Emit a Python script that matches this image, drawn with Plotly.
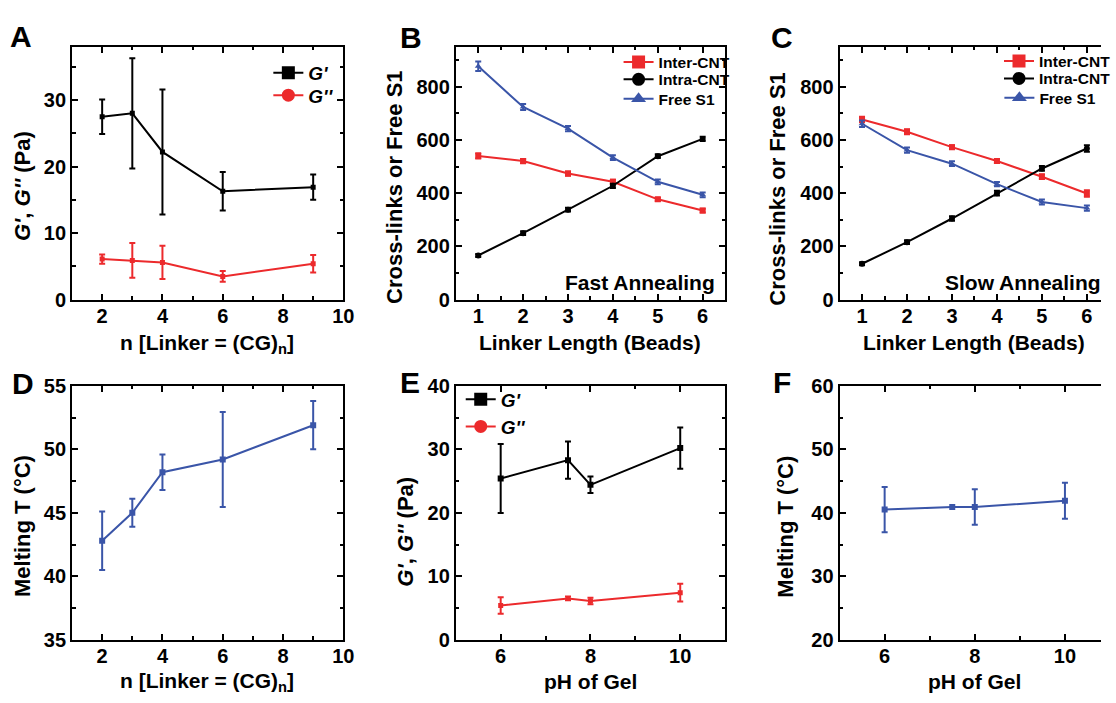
import plotly.graph_objects as go

# ---------------- data ----------------
# Panel A: G', G'' vs n
a_n = [2, 3, 4, 6, 9]
a_gp = [27.5, 28.0, 22.2, 16.3, 16.9]
a_gp_err = [2.6, 8.3, 9.4, 2.9, 1.9]
a_gpp = [6.1, 5.9, 5.6, 3.5, 5.4]
a_gpp_err = [0.7, 2.6, 2.5, 0.8, 1.3]

# Panel B: fast annealing
b_len = [1, 2, 3, 4, 5, 6]
b_inter = [540, 521, 474, 443, 377, 335]
b_intra = [166, 250, 338, 428, 539, 604]
b_free = [877, 724, 643, 534, 443, 394]
b_inter_err = [10, 8, 8, 8, 6, 7]
b_intra_err = [6, 7, 7, 8, 7, 8]
b_free_err = [18, 11, 10, 9, 9, 9]

# Panel C: slow annealing
c_len = [1, 2, 3, 4, 5, 6]
c_inter = [677, 631, 573, 521, 462, 399]
c_intra = [135, 216, 305, 400, 493, 568]
c_free = [661, 562, 511, 434, 367, 344]
c_inter_err = [10, 9, 7, 7, 9, 12]
c_intra_err = [6, 7, 8, 9, 9, 12]
c_free_err = [12, 10, 9, 8, 9, 10]

# Panel D: melting T vs n
d_n = [2, 3, 4, 6, 9]
d_tm = [42.8, 45.0, 48.2, 49.2, 51.9]
d_tm_err = [2.3, 1.1, 1.4, 3.75, 1.9]

# Panel E: G', G'' vs pH
e_ph = [6, 7.5, 8, 10]
e_gp = [25.4, 28.3, 24.4, 30.2]
e_gp_err = [5.45, 2.95, 1.3, 3.25]
e_gpp = [5.4, 6.5, 6.1, 7.4]
e_gpp_err = [1.3, 0.3, 0.5, 1.4]

# Panel F: melting T vs pH
f_ph = [6, 7.5, 8, 10]
f_tm = [40.5, 40.9, 40.9, 41.9]
f_tm_err = [3.55, 0.0, 2.8, 2.85]

# ---------------- style ----------------
W, H = 1116, 703
FONT = "Liberation Sans, Arial, sans-serif"
RED = "#EC2A2C"
BLUE = "#3A55A8"
BLACK = "#000000"


def px(x):
    return x / W


def py(y):
    return 1 - y / H


fig = go.Figure()


def add_series(x, y, err, color, symbol, xa, ya, msize=6):
    fig.add_trace(go.Scatter(
        x=x, y=y, mode="lines+markers", xaxis=xa, yaxis=ya,
        line=dict(color=color, width=2),
        marker=dict(symbol=symbol, size=msize, color=color),
        error_y=dict(type="data", array=err, visible=True, color=color,
                     thickness=2, width=3),
        showlegend=False, hoverinfo="skip"))


legend_layout = {}
_leg_count = [0]


def add_legend_entry(name, color, symbol, text_x, center_y, fsize):
    _leg_count[0] += 1
    k = _leg_count[0]
    key = "legend" if k == 1 else f"legend{k}"
    fig.add_trace(go.Scatter(
        x=[None], y=[None], mode="lines+markers", name=name,
        line=dict(color=color, width=2),
        marker=dict(symbol=symbol, size=13, color=color),
        legend=key, showlegend=True, xaxis="x", yaxis="y"))
    legend_layout[key] = dict(
        x=px(text_x - 33), y=py(center_y), xanchor="left", yanchor="middle",
        bgcolor="rgba(0,0,0,0)", borderwidth=0, itemwidth=30,
        itemclick=False, itemdoubleclick=False,
        font=dict(family=FONT, size=fsize, color=BLACK, weight="bold"))


# A
add_series(a_n, a_gp, a_gp_err, BLACK, "square", "x", "y", 5)
add_series(a_n, a_gpp, a_gpp_err, RED, "square", "x", "y", 5)
add_legend_entry("<i>G'</i>", BLACK, "square", 305, 64, 19)
add_legend_entry("<i>G''</i>", RED, "circle", 305, 87, 19)

# B
add_series(b_len, b_inter, b_inter_err, RED, "square", "x2", "y2")
add_series(b_len, b_intra, b_intra_err, BLACK, "circle", "x2", "y2")
add_series(b_len, b_free, b_free_err, BLUE, "triangle-up", "x2", "y2")
add_legend_entry("Inter-CNT", RED, "square", 660, 53, 15.5)
add_legend_entry("Intra-CNT", BLACK, "circle", 660, 71, 15.5)
add_legend_entry("Free S1", BLUE, "triangle-up", 660, 91, 15.5)

# C
add_series(c_len, c_inter, c_inter_err, RED, "square", "x3", "y3")
add_series(c_len, c_intra, c_intra_err, BLACK, "circle", "x3", "y3")
add_series(c_len, c_free, c_free_err, BLUE, "triangle-up", "x3", "y3")
add_legend_entry("Inter-CNT", RED, "square", 1046, 52, 15.5)
add_legend_entry("Intra-CNT", BLACK, "circle", 1046, 70, 15.5)
add_legend_entry("Free S1", BLUE, "triangle-up", 1046, 90, 15.5)

# D
add_series(d_n, d_tm, d_tm_err, BLUE, "square", "x4", "y4", 6)

# E
add_series(e_ph, e_gp, e_gp_err, BLACK, "square", "x5", "y5", 6)
add_series(e_ph, e_gpp, e_gpp_err, RED, "square", "x5", "y5", 5)
add_legend_entry("<i>G'</i>", BLACK, "square", 500, 401, 19)
add_legend_entry("<i>G''</i>", RED, "circle", 500, 429, 19)

# F
add_series(f_ph, f_tm, f_tm_err, BLUE, "square", "x6", "y6", 6)

tickfont = dict(family=FONT, size=20, color=BLACK, weight="bold")


def axis(domain, rng, dtick, minor, anchor, mirror="allticks", tick0=None,
         is_x=False):
    d = dict(domain=domain, range=rng, dtick=dtick, anchor=anchor,
             showline=True, linewidth=2, linecolor=BLACK, mirror=mirror,
             ticks="inside", ticklen=6, tickwidth=2, tickcolor=BLACK,
             minor=dict(ticks="inside", ticklen=3.5, tickwidth=1.5,
                        tickcolor=BLACK, dtick=minor),
             showgrid=False, zeroline=False, tickfont=tickfont,
             fixedrange=True)
    if is_x:
        d["ticklabelstandoff"] = -3
    if tick0 is not None:
        d["tick0"] = tick0
    return d


col1 = [px(73), px(348)]
col2 = [px(462), px(735)]
col3 = [px(851), 1.0]
row1 = [py(298), py(37)]
row2 = [py(649), py(387)]

fig.update_layout(
    xaxis=axis(col1, [1, 10], 2, 1, "y", is_x=True),
    yaxis=axis(row1, [0, 38], 10, 5, "x"),
    xaxis2=axis(col2, [0.5, 6.5], 1, 0.5, "y2", tick0=0, is_x=True),
    yaxis2=axis(row1, [0, 950], 200, 100, "x2"),
    xaxis3=axis(col3, [0.5, 6.314], 1, 0.5, "y3", tick0=0, is_x=True),
    yaxis3=axis(row1, [0, 950], 200, 100, "x3", mirror=False),
    xaxis4=axis(col1, [1, 10], 2, 1, "y4", is_x=True),
    yaxis4=axis(row2, [35, 55], 5, 2.5, "x4"),
    xaxis5=axis(col2, [5, 11], 2, 1, "y5", tick0=0, is_x=True),
    yaxis5=axis(row2, [0, 40], 10, 5, "x5"),
    xaxis6=axis(col3, [5, 10.8], 2, 1, "y6", tick0=0, is_x=True),
    yaxis6=axis(row2, [20, 60], 10, 5, "x6", mirror=False),
)

fig.update_layout(**legend_layout)

annotations = []


def text(t, x, y, size, xanchor="center", yanchor="middle", angle=0):
    annotations.append(dict(
        text=t, x=px(x), y=py(y), xref="paper", yref="paper",
        xanchor=xanchor, yanchor=yanchor, textangle=angle, showarrow=False,
        font=dict(family=FONT, size=size, color=BLACK, weight="bold")))


# panel letters
for letter, x, y in [("A", 8, 26), ("B", 403, 27), ("C", 779, 27),
                     ("D", 10, 385), ("E", 403, 383), ("F", 782, 383)]:
    text(letter, x, y, 30, xanchor="left")

# x titles
text("n [Linker = (CG)<sub>n</sub>]", 210, 344, 21)
text("Linker Length (Beads)", 598, 342, 21)
text("Linker Length (Beads)", 987, 342, 21)
text("n [Linker = (CG)<sub>n</sub>]", 210, 693, 21)
text("pH of Gel", 599, 692, 21)
text("pH of Gel", 988, 692, 21)

# y titles
text("<i>G'</i>, <i>G''</i> (Pa)", 23, 181, 22, angle=-90)
text("Cross-links or Free S1", 400, 182, 22, angle=-90)
text("Cross-links or Free S1", 788, 183, 22, angle=-90)
text("Melting T (°C)", 23, 532, 22, angle=-90)
text("<i>G'</i>, <i>G''</i> (Pa)", 411, 537, 22, angle=-90)
text("Melting T (°C)", 796, 532, 22, angle=-90)

# inner labels
text("Fast Annealing", 649, 280, 21)
text("Slow Annealing", 1037, 280, 21)

fig.update_layout(
    annotations=annotations,
    width=W, height=H,
    margin=dict(l=0, r=0, t=0, b=0),
    paper_bgcolor="white", plot_bgcolor="white",
    font=dict(family=FONT, color=BLACK),
)

fig.write_html("out.html", config={"displayModeBar": False},
               post_script="document.body.style.margin='0';document.body.style.overflow='hidden';")
